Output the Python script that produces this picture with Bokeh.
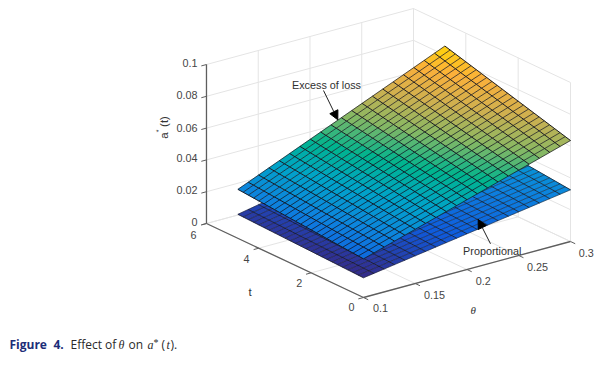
from bokeh.plotting import figure
from bokeh.models import Arrow, NormalHead, Range1d
from bokeh.core.properties import value
from bokeh.embed import file_html
from bokeh.resources import INLINE

theta_ticks = [0.1, 0.15, 0.2, 0.25, 0.3]
theta_labels = ["0.1", "0.15", "0.2", "0.25", "0.3"]
t_ticks = [0, 2, 4, 6]
t_labels = ["0", "2", "4", "6"]
z_ticks = [0, 0.02, 0.04, 0.06, 0.08, 0.1]
z_labels = ["0", "0.02", "0.04", "0.06", "0.08", "0.1"]

# Mesh nodes as seen in the picture (21 by 25 lines).
theta_nodes = [0.1 + 0.01 * i for i in range(21)]
t_nodes = [0.2 * i for i in range(25)]

# Corner heights: [theta=.1,t=0], [theta=.3,t=0], [theta=.1,t=4.8], [theta=.3,t=4.8].
# The surface edges look straight in the reference, so the mesh between them is spanned bilinearly.
excess_corners = [0.0243, 0.0635, 0.0308, 0.0857]
proportional_corners = [0.0124, 0.0325, 0.0151, 0.0405]

palette = ["#352a87", "#0f5cdd", "#0d84de", "#00a4c8", "#00b48e", "#86b864", "#cdb050", "#fbb03a", "#ffdc00"]
C_MIN, C_MAX = 0.0124, 0.087


def cmap(z):
    f = max(0.0, min(1.0, (z - C_MIN) / (C_MAX - C_MIN))) * (len(palette) - 1)
    i = min(int(f), len(palette) - 2)
    a = palette[i]; b = palette[i + 1]; w = f - i
    ch = [round(int(a[k:k + 2], 16) * (1 - w) + int(b[k:k + 2], 16) * w) for k in (1, 3, 5)]
    return "#%02x%02x%02x" % tuple(ch)


def proj(th, t, z):
    return (363 + (th - 0.1) * 1035 - t * 26.17, 297 - (th - 0.1) * 280 - t * 12.33 - z * 1590)


def height(c, th, t):
    u = (th - 0.1) / 0.2
    v = t / 4.8
    return c[0] * (1 - u) * (1 - v) + c[1] * u * (1 - v) + c[2] * (1 - u) * v + c[3] * u * v


p = figure(width=600, height=365, output_backend="svg", toolbar_location=None,
           x_range=Range1d(0, 600), y_range=Range1d(365, 0), min_border=0)
p.axis.visible = False
p.grid.visible = False
p.outline_line_color = None
p.background_fill_color = "white"

GRID = "#e4e4e4"
AX = "#5e5e5e"


def seg(a, b, color, width):
    p.line([a[0], b[0]], [a[1], b[1]], line_color=color, line_width=width)


for z in z_ticks:
    seg(proj(0.1, 6, z), proj(0.3, 6, z), GRID, 1)
    seg(proj(0.3, 6, z), proj(0.3, 0, z), GRID, 1)
for th in theta_ticks:
    seg(proj(th, 0, 0), proj(th, 6, 0), GRID, 1)
    seg(proj(th, 6, 0), proj(th, 6, 0.1), GRID, 1)
for t in t_ticks:
    seg(proj(0.1, t, 0), proj(0.3, t, 0), GRID, 1)
    seg(proj(0.3, t, 0), proj(0.3, t, 0.1), GRID, 1)

for corners, lw_t, lw_th in ((proportional_corners, 0.8, 0.6), (excess_corners, 1.0, 0.8)):
    xs, ys, fills = [], [], []
    for j in range(len(t_nodes) - 2, -1, -1):
        for i in range(len(theta_nodes) - 1):
            t0, t1 = t_nodes[j], t_nodes[j + 1]
            a, b = theta_nodes[i], theta_nodes[i + 1]
            quad = [(a, t0), (b, t0), (b, t1), (a, t1)]
            pts = [proj(q[0], q[1], height(corners, q[0], q[1])) for q in quad]
            xs.append([q[0] for q in pts])
            ys.append([q[1] for q in pts])
            fills.append(cmap(sum(height(corners, q[0], q[1]) for q in quad) / 4))
    p.patches(xs, ys, fill_color=fills, line_color=fills, line_width=0.3)
    # Lines running along t are the heavier ones in the reference, those along theta a little lighter.
    along_th = [[proj(th, t, height(corners, th, t)) for th in theta_nodes] for t in t_nodes]
    along_t = [[proj(th, t, height(corners, th, t)) for t in t_nodes] for th in theta_nodes]
    p.multi_line([[q[0] for q in r] for r in along_th], [[q[1] for q in r] for r in along_th],
                 line_color="#14141c", line_width=lw_th, line_alpha=0.9)
    p.multi_line([[q[0] for q in r] for r in along_t], [[q[1] for q in r] for r in along_t],
                 line_color="#14141c", line_width=lw_t, line_alpha=0.95)

seg(proj(0.1, 0, 0), proj(0.1, 6, 0), AX, 1.3)
seg(proj(0.1, 0, 0), proj(0.3, 0, 0), AX, 1.3)
seg(proj(0.1, 6, 0), proj(0.1, 6, 0.1), AX, 1.3)
for z in z_ticks:
    seg(proj(0.1, 6, z), proj(0.095, 6, z), AX, 1)
for t in t_ticks:
    seg(proj(0.1, t, 0), proj(0.095, t, 0), AX, 1)
for th in theta_ticks:
    seg(proj(th, 0, 0), proj(th, -0.18, 0), AX, 1)

TICK = "#454545"


def label(x, y, s, size="10.8px", color=TICK, font="Liberation Sans", style="normal", align="center", angle=0):
    p.text([x], [y], text=[s], text_font=value(font), text_font_size=size, text_color=color,
           text_font_style=style, text_align=align, text_baseline="middle", angle=angle)


for s, y in zip(z_labels, [221, 189, 157.5, 127, 94.5, 62.5]):
    label(197, y, s, align="right")
for s, x, y in zip(t_labels, [351, 298.7, 246, 193], [306, 282, 258, 234]):
    label(x, y, s)
for s, x, y in zip(theta_labels, [380, 434, 482.7, 537, 585.7], [307.7, 294, 280, 266, 252]):
    label(x, y, s)
label(249.7, 291, "t", size="11.5px", color="#333333")
label(472.7, 309, "θ", size="11px", color="#333333", font="Liberation Serif", style="italic")
label(163, 135, "a", size="11.5px", color="#333333", angle=-4.712389)
label(157.5, 130.5, "*", size="7px", color="#333333", angle=-4.712389)
label(163, 121, "(t)", size="11.5px", color="#333333", angle=-4.712389)

label(326, 84.5, "Excess of loss", color="#303030")
label(491.7, 250, "Proportional", color="#303030")

head = dict(size=9, fill_color="black", line_color="black")
p.add_layout(Arrow(end=NormalHead(**head), x_start=323, y_start=90, x_end=337.3, y_end=119.3,
                   line_color="#222222", line_width=1))
p.add_layout(Arrow(end=NormalHead(**head), x_start=490, y_start=243.3, x_end=477.7, y_end=219,
                   line_color="#222222", line_width=1))

NAVY = "#1c2d78"
INK = "#2a2a2a"
label(9, 344, "Figure", size="12px", color=NAVY, font="Open Sans", style="bold", align="left")
label(53, 344, "4.", size="12px", color=NAVY, font="Open Sans", style="bold", align="left")
label(70, 344, "Effect of", size="12px", color=INK, font="Open Sans", align="left")
label(118, 344, "θ", size="12px", color=INK, font="Liberation Serif", style="italic", align="left")
label(128, 344, "on", size="12px", color=INK, font="Open Sans", align="left")
label(147, 344, "a", size="12px", color=INK, font="Liberation Serif", style="italic", align="left")
label(153, 342, "*", size="10px", color=INK, font="Liberation Serif", align="left")
label(161, 344, "(", size="12px", color=INK, font="Open Sans", align="left")
label(166, 344, "t", size="12px", color=INK, font="Liberation Serif", style="italic", align="left")
label(170, 344, ").", size="12px", color=INK, font="Open Sans", align="left")

open("out.html", "w").write(file_html(p, INLINE))
